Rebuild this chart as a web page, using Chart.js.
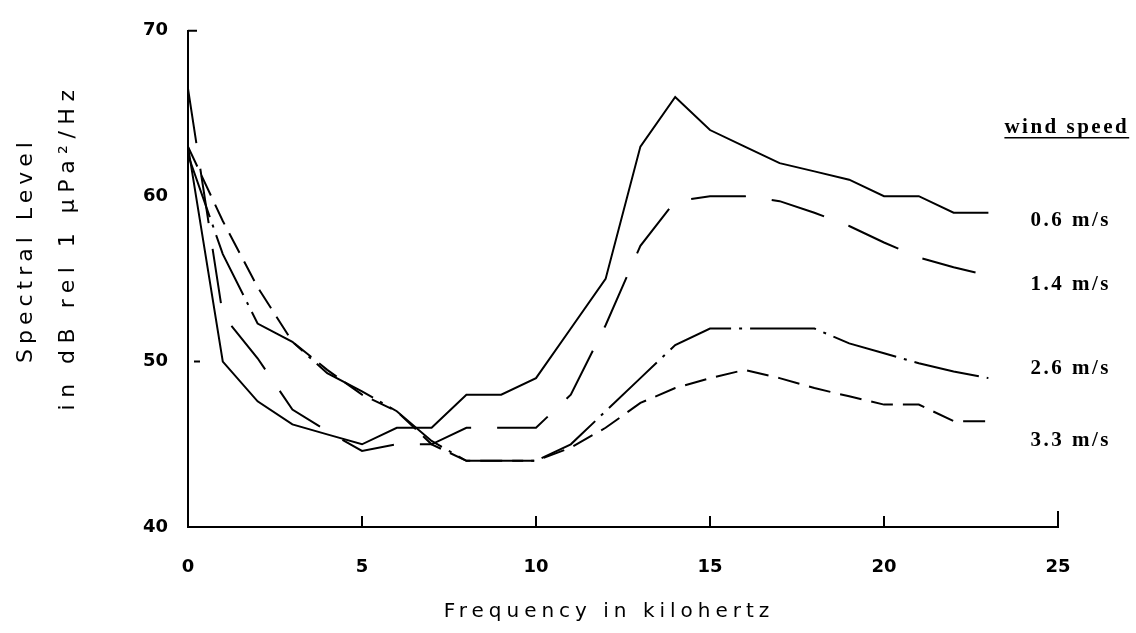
<!DOCTYPE html>
<html>
<head>
<meta charset="utf-8">
<script src="https://cdn.jsdelivr.net/npm/chart.js@4.4.1/dist/chart.umd.min.js"></script>
<style>
    html, body { margin: 0; padding: 0; background: #fff; }
    #chart { display: block; }
</style>
</head>
<body>
<canvas id="chart" width="1136" height="633"></canvas>
<script>
// Frecuencia (kHz) y niveles espectrales (dB)
const freqKHz = [0, 1, 2, 3, 4, 5, 6, 7, 8, 9, 10, 11, 12, 13, 14, 15, 16, 17, 18, 19, 20, 21, 22, 23];
const level06 = [63, 50, 47.6, 46.2, 45.6, 45, 46, 46, 48, 48, 49, 52, 55, 63, 66, 64, 63, 62, 61.5, 61, 60, 60, 59, 59];
const level14 = [66.5, 52.8, 50.2, 47.1, 45.8, 44.6, 45, 45, 46, 46, 46, 48, 52.2, 57, 59.7, 60, 60, 59.7, 59, 58.2, 57.2, 56.3, 55.7, 55.2];
const level26 = [62.5, 56.5, 52.3, 51.2, 49.3, 48.2, 47, 45.2, 44, 44, 44, 45, 47, 49, 51, 52, 52, 52, 52, 51.1, 50.5, 49.9, 49.4, 49];
const level33 = [63, 58.5, 54.5, 51.2, 49.5, 48, 47, 45, 44, 44, 44, 44.8, 46, 47.5, 48.4, 49, 49.5, 49, 48.4, 47.9, 47.4, 47.4, 46.4, 46.4];

const seriesLabels = ['0.6 m/s', '1.4 m/s', '2.6 m/s', '3.3 m/s'];
const xTicks = [0, 5, 10, 15, 20, 25];
const yTicks = [40, 50, 60, 70];

const toPoints = values => values.map((v, i) => ({ x: freqKHz[i], y: v }));

// Estilos de linea (trazo continuo, rayas, raya-punto, rayas cortas)
const dashes = [[], [55, 26], [66, 8, 3, 8], [22, 10]];
const labelNudge = [8, 9, -10, 19];

// Titulos, marcas interiores y etiquetas de velocidad del viento
const decorPlugin = {
    id: 'decor',
    afterDraw(chart) {
        const ctx = chart.ctx;
        const xs = chart.scales.x;
        const ys = chart.scales.y;
        const area = chart.chartArea;

        ctx.save();
        ctx.strokeStyle = '#000';
        ctx.fillStyle = '#000';
        ctx.lineWidth = 2;

        // marcas hacia dentro en el eje x
        xTicks.slice(1).forEach(t => {
            const px = xs.getPixelForValue(t);
            const len = t === 25 ? 16 : 11;
            ctx.beginPath();
            ctx.moveTo(px, area.bottom);
            ctx.lineTo(px, area.bottom - len);
            ctx.stroke();
        });
        // marcas en el eje y
        ctx.beginPath();
        ctx.moveTo(area.left + 6, ys.getPixelForValue(50));
        ctx.lineTo(area.left + 12, ys.getPixelForValue(50));
        ctx.moveTo(area.left, ys.getPixelForValue(70));
        ctx.lineTo(area.left + 9, ys.getPixelForValue(70));
        ctx.stroke();

        // titulo del eje y (dos lineas giradas)
        ctx.save();
        ctx.font = '22px "DejaVu Sans"';
        ctx.textAlign = 'center';
        ctx.textBaseline = 'middle';
        ctx.translate(26, 250);
        ctx.rotate(-Math.PI / 2);
        ctx.letterSpacing = '5px';
        ctx.fillText('Spectral Level', 0, 0);
        ctx.letterSpacing = '6.5px';
        ctx.fillText('in dB rel 1 \u00b5Pa\u00b2/Hz', 3, 42);
        ctx.restore();

        // titulo del eje x
        ctx.save();
        ctx.font = '20px "DejaVu Sans"';
        ctx.letterSpacing = '5px';
        ctx.textAlign = 'center';
        ctx.textBaseline = 'middle';
        ctx.fillText('Frequency in kilohertz', xs.getPixelForValue(12.5) - 14, 612);
        ctx.restore();

        // etiquetas de las curvas
        const lastX = xs.getPixelForValue(freqKHz[freqKHz.length - 1]);
        ctx.save();
        ctx.font = 'bold 21px "Liberation Serif"';
        ctx.letterSpacing = '2.5px';
        ctx.textAlign = 'left';
        ctx.textBaseline = 'middle';
        chart.data.datasets.forEach((ds, i) => {
            const last = ds.data[ds.data.length - 1].y;
            ctx.fillText(seriesLabels[i], lastX + 42, ys.getPixelForValue(last) + labelNudge[i]);
        });
        const headY = ys.getPixelForValue(level06[level06.length - 1]) + labelNudge[0] - 93;
        ctx.fillText('wind speed', lastX + 16, headY);
        const w = ctx.measureText('wind speed').width;
        ctx.lineWidth = 1.5;
        ctx.beginPath();
        ctx.moveTo(lastX + 16, headY + 10);
        ctx.lineTo(lastX + 16 + w, headY + 10);
        ctx.stroke();
        ctx.restore();

        ctx.restore();
    }
};

const datasets = [level06, level14, level26, level33].map((values, i) => ({
    label: seriesLabels[i],
    data: toPoints(values),
    borderColor: '#000',
    borderWidth: 2,
    borderDash: dashes[i],
    pointRadius: 0,
    tension: 0,
    fill: false
}));

new Chart(document.getElementById('chart'), {
    type: 'line',
    data: { datasets },
    options: {
        responsive: false,
        animation: false,
        devicePixelRatio: 1,
        layout: { padding: { top: 22, right: 78, bottom: 0, left: 0 } },
        plugins: {
            legend: { display: false },
            tooltip: { enabled: false }
        },
        scales: {
            x: {
                type: 'linear',
                min: 0,
                max: 25,
                afterFit: scale => { scale.height = 106; },
                afterBuildTicks: scale => { scale.ticks = xTicks.map(v => ({ value: v })); },
                grid: { display: false, drawTicks: false },
                border: { display: true, color: '#000', width: 2 },
                ticks: {
                    color: '#000',
                    padding: 30,
                    font: { family: 'DejaVu Sans', size: 18, weight: 'bold' }
                }
            },
            y: {
                type: 'linear',
                min: 40,
                max: 70,
                afterFit: scale => { scale.width = 188; },
                afterBuildTicks: scale => { scale.ticks = yTicks.map(v => ({ value: v })); },
                grid: { display: false, drawTicks: false },
                border: { display: true, color: '#000', width: 2 },
                ticks: {
                    color: '#000',
                    padding: 20,
                    font: { family: 'DejaVu Sans', size: 18, weight: 'bold' }
                }
            }
        }
    },
    plugins: [decorPlugin]
});
</script>
</body>
</html>
